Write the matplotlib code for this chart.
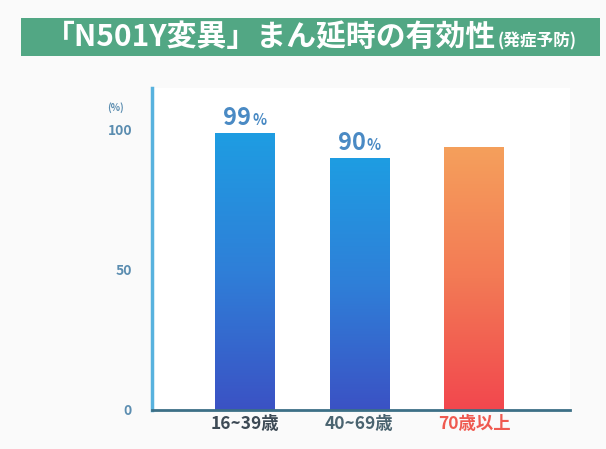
import numpy as np
import matplotlib
matplotlib.use("Agg")
import matplotlib.pyplot as plt
from matplotlib.patches import Rectangle
from matplotlib.offsetbox import TextArea, HPacker, AnnotationBbox

plt.rcParams['font.family'] = ['Noto Sans CJK JP', 'DejaVu Sans']

categories = ["16~39歳", "40~69歳", "70歳以上"]
values = [99, 90, 94]
value_labels = ["99", "90", None]
cat_colors = ["#3d4a55", "#4a6470", "#ef5a50"]

fig = plt.figure(figsize=(6.06, 4.49), dpi=100)
fig.patch.set_facecolor("#fafafa")

# title band
band = fig.add_axes([0.035, 0.875, 0.955, 0.085])
band.set_xlim(0, 1); band.set_ylim(0, 1); band.axis("off")
band.add_patch(Rectangle((0, 0), 1, 1, color="#52a784"))
title_main = TextArea("「N501Y変異」まん延時の有効性",
                      textprops=dict(color="white", fontsize=21.5, fontweight="bold"))
title_sub = TextArea("(発症予防)",
                     textprops=dict(color="white", fontsize=12, fontweight="bold"))
tpack = HPacker(children=[title_main, title_sub], align="baseline", pad=0, sep=1)
band.add_artist(AnnotationBbox(tpack, (0.5, 0.5), xycoords="axes fraction",
                               frameon=False, box_alignment=(0.5, 0.5)))

ax = fig.add_axes([0.25, 0.087, 0.69, 0.717])
ax.set_facecolor("white")
x = np.arange(len(categories))
width = 0.52
bars = ax.bar(x, values, width=width, color="none", zorder=2)

blue_grad = matplotlib.colors.LinearSegmentedColormap.from_list("b", ["#3b52c4", "#2f7fd8", "#1e9de2"])
red_grad = matplotlib.colors.LinearSegmentedColormap.from_list("r", ["#f2474e", "#f37a55", "#f5a05c"])
grad = np.linspace(0, 1, 256).reshape(-1, 1)
for i, b in enumerate(bars):
    cmap = red_grad if i == 2 else blue_grad
    im = ax.imshow(grad, cmap=cmap, aspect="auto", origin="lower",
                   extent=[b.get_x(), b.get_x() + b.get_width(), 0, b.get_height()], zorder=2)
    im.set_clip_path(b)

ax.set_xlim(-0.81, 2.83)
ax.set_ylim(0, 115)
ax.set_yticks([0, 50, 100])
ax.set_yticklabels(["0", "50", "100"])
ax.tick_params(axis="y", length=0, labelsize=10, labelcolor="#5b8db0", pad=14)
for lbl in ax.get_yticklabels():
    lbl.set_fontweight("bold")
ax.tick_params(axis="x", length=0, pad=4)
ax.set_xticks(x)
ax.set_xticklabels(categories, fontsize=12.5, fontweight="bold")
for lbl, c in zip(ax.get_xticklabels(), cat_colors):
    lbl.set_color(c)

for s in ["top", "right"]:
    ax.spines[s].set_visible(False)
ax.spines["left"].set_color("#58b2de")
ax.spines["left"].set_linewidth(2.5)
ax.spines["bottom"].set_color("#3c6f86")
ax.spines["bottom"].set_linewidth(2)

ax.text(-0.81 - 0.31, 108, "(%)", fontsize=7, color="#5b8db0", fontweight="bold",
        ha="center", va="center")

for xi, v, lab in zip(x, values, value_labels):
    if lab is None:
        continue
    num = TextArea(lab, textprops=dict(fontsize=17, fontweight="bold", color="#4a8ac4"))
    pct = TextArea("%", textprops=dict(fontsize=10.5, fontweight="bold", color="#4a8ac4"))
    pack = HPacker(children=[num, pct], align="baseline", pad=0, sep=1)
    ax.add_artist(AnnotationBbox(pack, (xi, v), xycoords="data", frameon=False,
                                 box_alignment=(0.5, 0.0), xybox=(0, 2),
                                 boxcoords="offset points"))

fig.savefig("out.png", dpi=100, facecolor=fig.get_facecolor())
